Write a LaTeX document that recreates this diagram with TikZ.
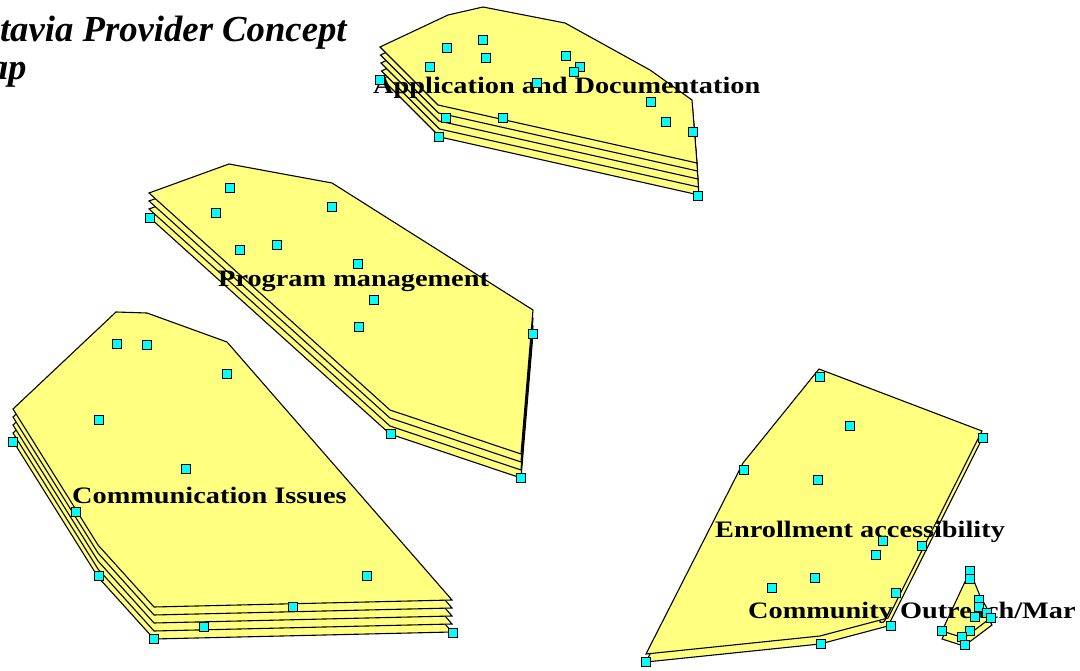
\documentclass[tikz,border=0pt]{standalone}
\usepackage{fontspec}
\setmainfont{Liberation Serif}
\newfontfamily\labfont{Liberation Serif}[FakeStretch=1.2]
\definecolor{polyfill}{RGB}{255,255,128}
\definecolor{mkcyan}{RGB}{0,255,255}
\tikzset{
  poly/.style={draw=black, fill=polyfill, line width=1.1pt, line join=miter},
  mk/.style={rectangle, draw=black, fill=mkcyan, line width=0.9pt, minimum size=8.5pt, inner sep=0pt},
  lab/.style={anchor=base west, inner sep=0pt, font=\labfont\bfseries\fontsize{23.6}{28}\selectfont},
  ttl/.style={anchor=base west, inner sep=0pt, font=\bfseries\itshape\fontsize{36.7}{40}\selectfont}
}
\newcommand{\stackpoly}[4]{% #1 extra layers, #2 dx, #3 dy, #4 path
  \foreach \k in {#1,...,0}{\draw[poly,shift={(\k*#2,\k*#3)}] #4 -- cycle;}}
\begin{document}
\begin{tikzpicture}[x=1pt,y=-1pt]
\useasboundingbox (0,0) rectangle (1080,671);
\fill[white] (0,0) rectangle (1080,671);

% clusters (stacked layers)
\stackpoly{4}{0.5}{8}{(380,47) -- (448,15) -- (483,7) -- (565,23) -- (650,70) -- (692,100) -- (697,163) -- (438,105)}
\stackpoly{3}{0}{8}{(149,193) -- (229,164) -- (332,183) -- (533,310) -- (521,454) -- (390,410)}
\stackpoly{4}{0}{8}{(13,409) -- (116,312) -- (147,313) -- (227,342) -- (452,600) -- (154,607) -- (98,545)}
\stackpoly{1}{0}{8}{(819,369) -- (982,431) -- (888,618) -- (820,636) -- (646,654) -- (743,463)}
\stackpoly{1}{0}{8}{(970,571) -- (980,596) -- (992,617) -- (964,638) -- (942,631)}

% title (cut off at the left edge, as in the reference)
\node[ttl] (title1) at (-43,42) {Batavia Provider Concept};
\node[ttl] (title2) at (-43,80) {Map};

% cluster labels
\node[lab] (lapp) at (373,94) {Application and Documentation};
\node[lab] (lprog) at (218,287) {Program management};
\node[lab] (lcomm) at (72,503) {Communication Issues};
\node[lab] (lenr) at (715,537) {Enrollment accessibility};
\node[lab] (lout) at (748,618) {Community Outreach/Mar};

% points: Application and Documentation
\foreach \p [count=\i] in {(447,48),(483,40),(486,58),(430,67),(380,80),(537,83),(566,56),(580,67),(574,72),(651,102),(666,122),(693,132),(446,118),(503,118),(439,137),(698,196)}
  \node[mk] (a\i) at \p {};
% points: Program management
\foreach \p [count=\i] in {(230,188),(216,213),(150,218),(332,207),(240,250),(277,245),(358,264),(374,300),(359,327),(533,334),(391,434),(521,478)}
  \node[mk] (p\i) at \p {};
% points: Communication Issues
\foreach \p [count=\i] in {(117,344),(147,345),(227,374),(99,420),(13,442),(186,469),(76,512),(99,576),(367,576),(293,607),(204,627),(154,639),(453,633)}
  \node[mk] (c\i) at \p {};
% points: Enrollment accessibility
\foreach \p [count=\i] in {(820,377),(850,426),(983,438),(744,470),(818,480),(883,541),(922,546),(876,555),(815,578),(772,588),(896,593),(891,626),(821,644),(646,662)}
  \node[mk] (e\i) at \p {};
% points: Community Outreach/Marketing
\foreach \p [count=\i] in {(970,571),(970,579),(979,600),(979,607),(987,613),(975,617),(991,618),(942,631),(970,631),(962,637),(965,645)}
  \node[mk] (o\i) at \p {};
\end{tikzpicture}
\end{document}
